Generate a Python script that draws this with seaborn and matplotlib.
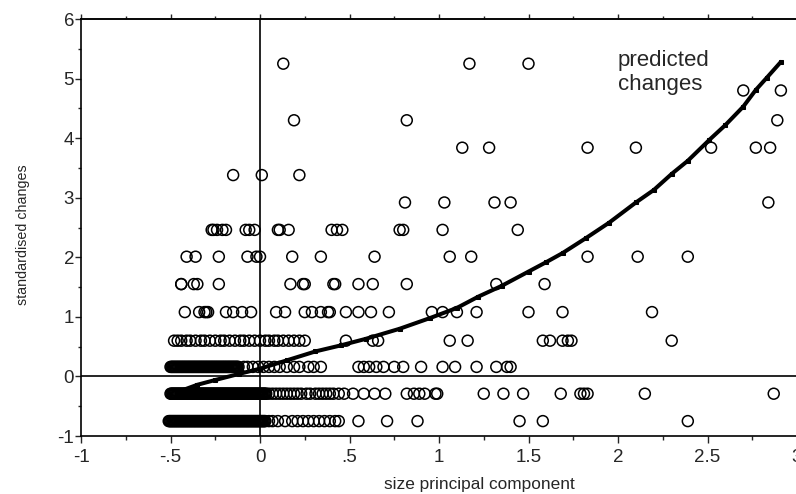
import pandas as pd
import matplotlib
matplotlib.use("Agg")
import matplotlib.pyplot as plt
import seaborn as sns
from matplotlib.ticker import MultipleLocator, FuncFormatter

sns.set_theme(style="ticks")
plt.rcParams["font.family"] = ["Liberation Sans", "DejaVu Sans"]

# observed standardised changes sit on discrete levels
levels = [5.25, 4.80, 4.30, 3.84, 3.38, 2.92, 2.46, 2.01, 1.55, 1.08, 0.60, 0.16, -0.29, -0.75]

x_525 = [0.13, 1.17, 1.50]
x_480 = [2.70, 2.91]
x_430 = [0.19, 0.82, 2.89]
x_384 = [1.13, 1.28, 1.83, 2.10, 2.52, 2.77, 2.85]
x_338 = [-0.15, 0.01, 0.22]
x_292 = [0.81, 1.03, 1.31, 1.40, 2.84]
x_246 = [-0.27, -0.26, -0.24, -0.21, -0.19, -0.08, -0.06, -0.03, 0.10, 0.11, 0.16,
         0.40, 0.43, 0.46, 0.78, 0.80, 1.02, 1.44]
x_201 = [-0.41, -0.36, -0.23, -0.07, -0.02, 0.00, 0.18, 0.34, 0.64, 1.06, 1.18,
         1.83, 2.11, 2.39]
x_155 = [-0.44, -0.44, -0.37, -0.35, -0.23, 0.17, 0.24, 0.25, 0.41, 0.42, 0.55,
         0.63, 0.82, 1.32, 1.59]
x_108 = [-0.42, -0.34, -0.31, -0.30, -0.29, -0.19, -0.15, -0.10, -0.05, 0.09, 0.14,
         0.25, 0.29, 0.34, 0.38, 0.39, 0.48, 0.55, 0.62, 0.72, 0.96, 1.02, 1.10,
         1.21, 1.50, 1.69, 2.19]
x_060 = [-0.48, -0.46, -0.44, -0.41, -0.39, -0.36, -0.33, -0.31, -0.28, -0.25,
         -0.22, -0.20, -0.17, -0.14, -0.11, -0.09, -0.06, -0.03, 0.00, 0.03, 0.05,
         0.08, 0.10, 0.13, 0.16, 0.19, 0.22, 0.25, 0.48, 0.63, 0.66, 1.06, 1.16,
         1.58, 1.62, 1.69, 1.72, 1.74, 2.30]
x_016 = [-0.500, -0.495, -0.490, -0.485, -0.480, -0.475, -0.470, -0.465, -0.460,
         -0.455, -0.450, -0.445, -0.440, -0.435, -0.430, -0.425, -0.420, -0.415,
         -0.410, -0.405, -0.400, -0.395, -0.390, -0.385, -0.380, -0.375, -0.370,
         -0.365, -0.360, -0.355, -0.350, -0.345, -0.340, -0.335, -0.330, -0.325,
         -0.320, -0.315, -0.310, -0.305, -0.300, -0.295, -0.290, -0.285, -0.280,
         -0.275, -0.270, -0.265, -0.260, -0.255, -0.250, -0.245, -0.240, -0.235,
         -0.230, -0.225, -0.220, -0.215, -0.210, -0.205, -0.200, -0.195, -0.190,
         -0.185, -0.180, -0.175, -0.170, -0.165, -0.160, -0.155, -0.150, -0.145,
         -0.140, -0.135, -0.130, -0.125, -0.120,
         -0.09, -0.07, -0.04, -0.01, 0.02, 0.05, 0.08, 0.11, 0.15, 0.19, 0.22,
         0.27, 0.30, 0.34, 0.55, 0.58, 0.61, 0.65, 0.69, 0.75, 0.80, 0.90, 1.02,
         1.09, 1.21, 1.32, 1.38, 1.40]
x_m029 = [-0.500, -0.495, -0.490, -0.485, -0.480, -0.475, -0.470, -0.465, -0.460,
          -0.455, -0.450, -0.445, -0.440, -0.435, -0.430, -0.425, -0.420, -0.415,
          -0.410, -0.405, -0.400, -0.395, -0.390, -0.385, -0.380, -0.375, -0.370,
          -0.365, -0.360, -0.355, -0.350, -0.345, -0.340, -0.335, -0.330, -0.325,
          -0.320, -0.315, -0.310, -0.305, -0.300, -0.295, -0.290, -0.285, -0.280,
          -0.275, -0.270, -0.265, -0.260, -0.255, -0.250, -0.245, -0.240, -0.235,
          -0.230, -0.225, -0.220, -0.215, -0.210, -0.205, -0.200, -0.195, -0.190,
          -0.185, -0.180, -0.175, -0.170, -0.165, -0.160, -0.155, -0.150, -0.145,
          -0.140, -0.135, -0.130, -0.125, -0.120, -0.115, -0.110, -0.105, -0.100,
          -0.095, -0.090, -0.085, -0.080, -0.075, -0.070, -0.065, -0.060, -0.055,
          -0.050, -0.045, -0.040, -0.035, -0.030, -0.025, -0.020, -0.015, -0.010,
          -0.005, 0.000, 0.005, 0.010, 0.015, 0.020, 0.025, 0.030, 0.035,
          0.05, 0.07, 0.09, 0.11, 0.13, 0.15, 0.17,
          0.19, 0.21, 0.23, 0.26, 0.28, 0.31, 0.33, 0.35, 0.37, 0.39, 0.41,
          0.44, 0.47, 0.52, 0.58, 0.64, 0.70, 0.82, 0.86, 0.89, 0.92, 0.98,
          0.99, 1.25, 1.36, 1.47, 1.68, 1.79, 1.81, 1.83, 2.15, 2.87]
x_m075 = [-0.510, -0.505, -0.500, -0.495, -0.490, -0.485, -0.480, -0.475, -0.470,
          -0.465, -0.460, -0.455, -0.450, -0.445, -0.440, -0.435, -0.430, -0.425,
          -0.420, -0.415, -0.410, -0.405, -0.400, -0.395, -0.390, -0.385, -0.380,
          -0.375, -0.370, -0.365, -0.360, -0.355, -0.350, -0.345, -0.340, -0.335,
          -0.330, -0.325, -0.320, -0.315, -0.310, -0.305, -0.300, -0.295, -0.290,
          -0.285, -0.280, -0.275, -0.270, -0.265, -0.260, -0.255, -0.250, -0.245,
          -0.240, -0.235, -0.230, -0.225, -0.220, -0.215, -0.210, -0.205, -0.200,
          -0.195, -0.190, -0.185, -0.180, -0.175, -0.170, -0.165, -0.160, -0.155,
          -0.150, -0.145, -0.140, -0.135, -0.130, -0.125, -0.120, -0.115, -0.110,
          -0.105, -0.100, -0.095, -0.090, -0.085, -0.080, -0.075, -0.070, -0.065,
          -0.060, -0.055, -0.050, -0.045, -0.040, -0.035, -0.030, -0.025, -0.020,
          -0.015, -0.010, -0.005, 0.000, 0.005, 0.010, 0.015, 0.020, 0.025, 0.030,
          0.05, 0.07, 0.10, 0.14, 0.18, 0.21,
          0.24, 0.27, 0.30, 0.33, 0.36, 0.39, 0.42, 0.44, 0.55, 0.71, 0.88,
          1.45, 1.58, 2.39]

rows = [x_525, x_480, x_430, x_384, x_338, x_292, x_246, x_201, x_155, x_108,
        x_060, x_016, x_m029, x_m075]

# predicted curve
curve_x = [-0.45, -0.35, -0.25, -0.12, 0.00, 0.15, 0.31, 0.45, 0.59, 0.78, 0.95,
           1.10, 1.22, 1.35, 1.50, 1.60, 1.69, 1.82, 1.95, 2.10, 2.20, 2.30, 2.39,
           2.51, 2.60, 2.70, 2.77, 2.83, 2.91]
curve_y = [-0.25, -0.14, -0.06, 0.04, 0.13, 0.27, 0.42, 0.52, 0.63, 0.80, 0.98,
           1.15, 1.34, 1.52, 1.76, 1.92, 2.07, 2.32, 2.58, 2.92, 3.13, 3.40, 3.62,
           3.97, 4.22, 4.53, 4.81, 5.01, 5.28]

df = pd.DataFrame(
    [(x, lev) for lev, xs in zip(levels, rows) for x in xs],
    columns=["size", "change"]
)

fig = plt.figure(figsize=(7.96, 4.94), dpi=100)
ax = fig.add_axes([81 / 796, 58 / 494, 716 / 796, 417 / 494])

ax.axvline(0, color="black", linewidth=1.2, zorder=3)
ax.axhline(0, color="black", linewidth=1.2, zorder=3)

sns.scatterplot(
    data=df,
    x="size",
    y="change",
    marker="o",
    s=62,
    facecolor="none",
    edgecolor="black",
    linewidth=1.1,
    ax=ax,
    zorder=2
)

sns.lineplot(
    x=curve_x,
    y=curve_y,
    sort=False,
    color="black",
    linewidth=2.9,
    marker="s",
    markersize=3.5,
    markerfacecolor="black",
    markeredgecolor="black",
    ax=ax,
    zorder=4
)

ax.text(2.0, 5.48, "predicted\nchanges", fontsize=16, va="top", ha="left")

ax.set_xlim(-1, 3)
ax.set_ylim(-1, 6)

ax.xaxis.set_major_locator(MultipleLocator(0.5))
ax.xaxis.set_minor_locator(MultipleLocator(0.25))
ax.yaxis.set_major_locator(MultipleLocator(1))
ax.yaxis.set_minor_locator(MultipleLocator(0.5))
ax.xaxis.set_major_formatter(FuncFormatter(lambda v, p: f"{v:g}".replace("0.", ".")))
ax.yaxis.set_major_formatter(FuncFormatter(lambda v, p: f"{v:g}"))

ax.tick_params(axis="x", which="major", length=5, width=1, pad=4, labelsize=13.5)
ax.tick_params(axis="x", which="minor", length=3, width=1)
ax.tick_params(axis="y", which="major", length=4, width=1, pad=1, labelsize=13.5)
ax.tick_params(axis="y", which="minor", length=2, width=1)

top = ax.secondary_xaxis("top")
top.xaxis.set_major_locator(MultipleLocator(0.5))
top.xaxis.set_minor_locator(MultipleLocator(0.25))
top.tick_params(which="major", length=3.5, width=1, labeltop=False)
top.tick_params(which="minor", length=2, width=1)

for side in ["left", "bottom", "top"]:
    ax.spines[side].set_linewidth(1.2)
    ax.spines[side].set_color("black")
top.spines["top"].set_linewidth(1.2)
ax.spines["right"].set_visible(False)

ax.set_xlabel("size principal component", fontsize=12.4)
ax.xaxis.set_label_coords(0.556, -0.098)
ax.set_ylabel("standardised changes", fontsize=10.3)
ax.yaxis.set_label_coords(-0.071, 0.482)

fig.savefig("out.png", dpi=100)
